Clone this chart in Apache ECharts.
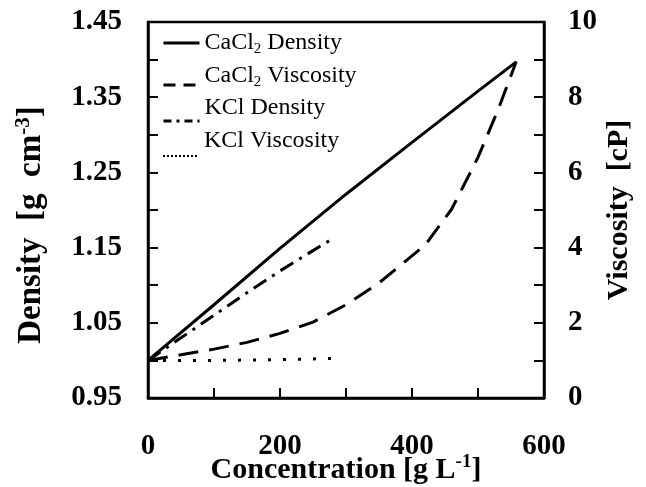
<!DOCTYPE html>
<html>
<head>
<meta charset="utf-8">
<script src="https://cdn.jsdelivr.net/npm/echarts@6/dist/echarts.min.js"></script>
<style>
  html, body { margin: 0; padding: 0; background: #fff; }
  #chart { width: 646px; height: 487px; }
</style>
</head>
<body>
<div id="chart"></div>
<script>
// Concentration (g/L) and measured properties of the two brines
const cacl2Conc = [0, 100, 200, 300, 400, 500, 558];
const cacl2Density = [1.000, 1.074, 1.149, 1.221, 1.290, 1.358, 1.397];

const cacl2ViscConc = [0, 50, 100, 150, 200, 250, 300, 350, 420, 460, 500, 530, 558];
const cacl2Viscosity = [1.00, 1.15, 1.30, 1.48, 1.72, 2.02, 2.48, 3.06, 4.07, 5.02, 6.40, 7.65, 8.95];

const kclConc = [0, 50, 100, 150, 200, 250, 280];
const kclDensity = [1.000, 1.030, 1.060, 1.090, 1.119, 1.146, 1.162];
const kclViscosity = [1.00, 1.00, 1.00, 1.01, 1.02, 1.04, 1.05];

// Axis ranges and labelled ticks
const xTicks = [0, 200, 400, 600];
const densityTicks = [0.95, 1.05, 1.15, 1.25, 1.35, 1.45];
const viscosityTicks = [0, 2, 4, 6, 8, 10];

const seriesNames = ['CaCl2 Density', 'CaCl2 Viscosity', 'KCl Density', 'KCl Viscosity'];

const FONT = '"Liberation Serif", "Times New Roman", serif';

function pairs(xs, ys) { return xs.map((x, i) => [x, ys[i]]); }
function isTick(list, v) { return list.some(t => Math.abs(t - v) < 1e-6); }

const legendRich = {
  a: { fontFamily: FONT, fontSize: 24, color: '#000', lineHeight: 28, verticalAlign: 'middle' },
  sub: { fontFamily: FONT, fontSize: 15, color: '#000', lineHeight: 15, verticalAlign: 'bottom' }
};
function legendLabel(name) {
  if (name.indexOf('CaCl2') === 0) {
    return '{a|CaCl}{sub|2}{a|' + name.slice(5) + '}';
  }
  return '{a|' + name + '}';
}

// one legend block per entry, so each swatch and its text can sit independently
const legendLines = [45, 87, 123, 158];
const legendRaise = [0, 9, 13, 15];
const legendDash = ['solid', [12, 8], [8, 5, 3, 5], [2, 2]];
const legends = seriesNames.map((n, i) => ({
  data: [n],
  left: 162,
  top: legendLines[i] - 14 - legendRaise[i],
  orient: 'vertical',
  padding: 0,
  itemWidth: 36,
  itemHeight: 14,
  selectedMode: false,
  itemStyle: { opacity: 0 },
  lineStyle: { width: i === 3 ? 2 : 3, type: legendDash[i] },
  formatter: legendLabel,
  textStyle: {
    fontFamily: FONT, fontSize: 24, color: '#000',
    padding: [0, 0, 2 * legendRaise[i], 0],
    rich: legendRich
  }
}));

const nameRich = {
  b: { fontFamily: FONT, fontWeight: 'bold', fontSize: 30, color: '#000', lineHeight: 34, verticalAlign: 'middle' },
  sup: { fontFamily: FONT, fontWeight: 'bold', fontSize: 19, color: '#000', lineHeight: 19, verticalAlign: 'top' }
};
const bigNameRich = {
  b: { fontFamily: FONT, fontWeight: 'bold', fontSize: 33, color: '#000', lineHeight: 37, verticalAlign: 'middle' },
  sup: { fontFamily: FONT, fontWeight: 'bold', fontSize: 21, color: '#000', lineHeight: 21, verticalAlign: 'top' }
};

const axisLineStyle = { color: '#000', width: 2.5 };
const tickStyle = { color: '#000', width: 2 };
const tickLabel = { fontFamily: FONT, fontWeight: 'bold', fontSize: 29, color: '#000' };

const option = {
  animation: false,
  backgroundColor: '#fff',
  grid: {
    left: 148, right: 102, top: 22, bottom: 89,
    outerBoundsMode: 'none', containLabel: false,
    show: true, borderColor: '#000', borderWidth: 2.5, backgroundColor: 'transparent'
  },
  legend: legends,
  xAxis: {
    type: 'value', min: 0, max: 600, interval: 100,
    name: '{b|Concentration [g L}{sup|-1}{b|]}',
    nameLocation: 'middle', nameGap: 55, nameMoveOverlap: false,
    nameTextStyle: { rich: nameRich },
    axisLine: { show: true, lineStyle: axisLineStyle },
    axisTick: { show: true, inside: true, length: 10, lineStyle: tickStyle },
    axisLabel: {
      ...tickLabel, margin: 34,
      formatter: v => isTick(xTicks, v) ? String(v) : ''
    },
    splitLine: { show: false }
  },
  yAxis: [
    {
      type: 'value', min: 0.95, max: 1.45, interval: 0.05,
      position: 'left',
      name: '{b|Density  [g  cm}{sup|-3}{b|]}',
      nameLocation: 'middle', nameGap: 98, nameRotate: 90, nameMoveOverlap: false,
      nameTextStyle: { rich: bigNameRich, padding: [0, 30, 0, 0] },
      axisLine: { show: true, lineStyle: axisLineStyle },
      axisTick: { show: true, inside: true, length: 10, lineStyle: tickStyle },
      axisLabel: {
        ...tickLabel, margin: 26,
        formatter: v => isTick(densityTicks, v) ? v.toFixed(2) : ''
      },
      splitLine: { show: false }
    },
    {
      type: 'value', min: 0, max: 10, interval: 1,
      position: 'right',
      name: '{b|Viscosity  [cP]}',
      nameLocation: 'middle', nameGap: 58, nameRotate: 90, nameMoveOverlap: false,
      nameTextStyle: { rich: nameRich },
      axisLine: { show: true, lineStyle: axisLineStyle },
      axisTick: { show: true, inside: true, length: 10, lineStyle: tickStyle },
      axisLabel: {
        ...tickLabel, margin: 24,
        formatter: v => isTick(viscosityTicks, v) ? String(v) : ''
      },
      splitLine: { show: false }
    }
  ],
  series: [
    {
      name: seriesNames[0], type: 'line', yAxisIndex: 0, symbol: 'none',
      data: pairs(cacl2Conc, cacl2Density),
      lineStyle: { color: '#000', width: 3, type: 'solid' }, itemStyle: { color: '#000' }
    },
    {
      name: seriesNames[1], type: 'line', yAxisIndex: 1, symbol: 'none',
      data: pairs(cacl2ViscConc, cacl2Viscosity),
      lineStyle: { color: '#000', width: 3, type: [20, 11] }, itemStyle: { color: '#000' }
    },
    {
      name: seriesNames[2], type: 'line', yAxisIndex: 0, symbol: 'none',
      data: pairs(kclConc, kclDensity),
      lineStyle: { color: '#000', width: 3, type: [15, 7, 3, 7] }, itemStyle: { color: '#000' }
    },
    {
      name: seriesNames[3], type: 'line', yAxisIndex: 1, symbol: 'none',
      data: pairs(kclConc, kclViscosity),
      lineStyle: { color: '#000', width: 3, type: [3, 12] }, itemStyle: { color: '#000' }
    }
  ]
};

const chart = echarts.init(document.getElementById('chart'), null, { renderer: 'canvas' });
chart.setOption(option);
</script>
</body>
</html>
